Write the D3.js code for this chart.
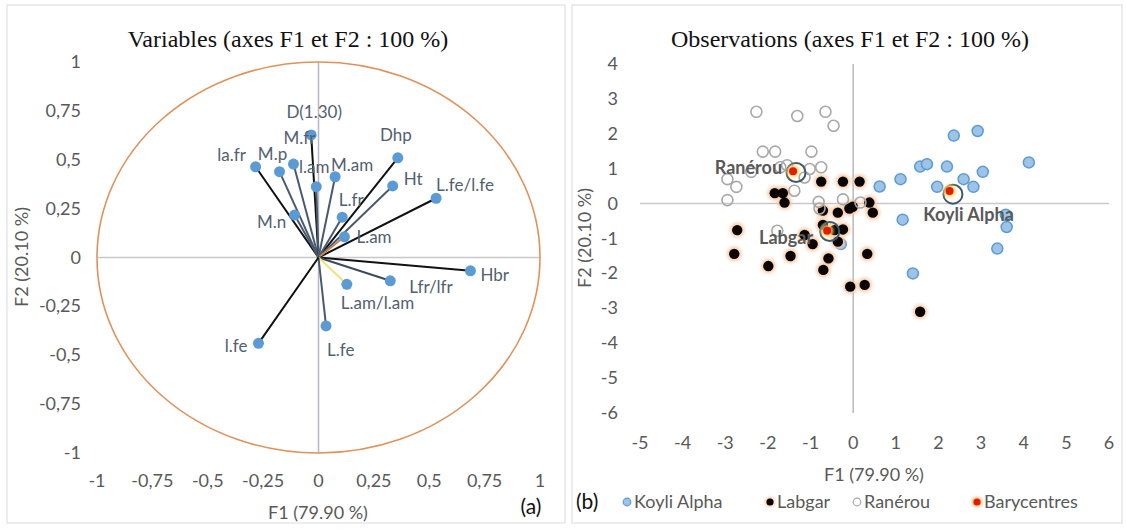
<!DOCTYPE html>
<html><head><meta charset="utf-8">
<script src="https://cdn.jsdelivr.net/npm/d3@7"></script>
<style>body{margin:0;background:#fff}svg{display:block}text{font-family:Lato,"Noto Sans",sans-serif}</style>
</head><body><svg id="c" width="1126" height="530"></svg>
<script>
// ---------- DATA ----------
const varNames = ["la.fr","M.p","M.fr","D(1.30)","l.am","M.am","Dhp","Ht","L.fe/l.fe","L.fr","L.am","M.n","Hbr","Lfr/lfr","L.am/l.am","L.fe","l.fe"];
const varF1 = [-0.284,-0.176,-0.113,-0.033,-0.010,0.075,0.358,0.335,0.531,0.107,0.117,-0.108,0.686,0.324,0.128,0.034,-0.271];
const varF2 = [0.464,0.439,0.478,0.627,0.362,0.413,0.510,0.366,0.303,0.206,0.106,0.217,-0.068,-0.119,-0.137,-0.350,-0.439];

const koyliF1 = [0.62,1.11,1.57,1.73,2.20,2.36,2.92,4.12,3.04,2.59,1.97,2.82,1.16,3.58,3.60,3.38,1.40,-0.29];
const koyliF2 = [0.49,0.70,1.06,1.13,1.06,1.95,2.08,1.18,0.91,0.70,0.48,0.48,-0.46,-0.32,-0.67,-1.29,-2.00,-1.16];

const labgarF1 = [-0.75,-0.24,0.15,-1.84,-1.65,-1.61,0.38,0.46,-0.36,-0.09,-0.01,-0.71,-0.71,-0.24,-0.44,-1.14,-0.95,-0.36,-1.47,-0.58,0.33,-1.99,-0.70,-0.07,0.27,1.57,-2.72,-2.79];
const labgarF2 = [0.63,0.63,0.63,0.30,0.30,0.03,0.03,-0.26,-0.26,-0.14,-0.09,-0.20,-0.61,-0.74,-0.76,-0.90,-1.16,-1.09,-1.50,-1.57,-1.44,-1.79,-1.90,-2.38,-2.33,-3.10,-0.76,-1.44];

const raneF1 = [-2.27,-1.31,-0.65,-0.46,-2.12,-1.83,-0.98,-1.71,-1.55,-2.39,-1.02,-0.75,-1.14,-2.95,-2.74,-1.38,-2.95,-0.81,-0.24,-0.79,0.17,-1.78];
const raneF2 = [2.63,2.51,2.63,2.23,1.49,1.49,1.49,1.04,1.10,0.91,0.99,1.04,0.75,0.70,0.48,0.37,0.10,0.05,0.12,-0.14,0.03,-0.78];

const baryNames = ["Ranérou","Labgar","Koyli Alpha"];
const baryF1 = [-1.41,-0.61,2.26];
const baryF2 = [0.93,-0.78,0.36];
const ringF1 = [-1.34,-0.55,2.34];
const ringF2 = [0.89,-0.80,0.27];

const leftTicks = [-1,-0.75,-0.5,-0.25,0,0.25,0.5,0.75,1];
const rightXTicks = [-5,-4,-3,-2,-1,0,1,2,3,4,5,6];
const rightYTicks = [-6,-5,-4,-3,-2,-1,0,1,2,3,4];
const legendItems = ["Koyli Alpha","Labgar","Ranérou","Barycentres"];

// ---------- STYLE / LAYOUT ----------
const BLACK="#111111", SLATE="#4A5A6E";
const lineColor = {"la.fr":BLACK,"M.p":SLATE,"M.fr":SLATE,"D(1.30)":BLACK,"l.am":SLATE,"M.am":SLATE,"Dhp":BLACK,"Ht":SLATE,
  "L.fe/l.fe":BLACK,"L.fr":SLATE,"L.am":"#C9844F","M.n":SLATE,"Hbr":BLACK,"Lfr/lfr":"#3E4A5A","L.am/l.am":"#F3E27A","L.fe":SLATE,"l.fe":BLACK};
const labelPos = {"la.fr":[-24,-12,"middle"],"M.p":[-7,-18,"middle"],"M.fr":[6,-26,"middle"],"D(1.30)":[3,-23,"middle"],
  "l.am":[-2,-20,"middle"],"M.am":[17,-12,"middle"],"Dhp":[-2,-23,"middle"],"Ht":[11,-7,"start"],"L.fe/l.fe":[0,-13,"start"],
  "L.fr":[9,-17,"middle"],"L.am":[12,0,"start"],"M.n":[-23,7,"middle"],"Hbr":[10,4,"start"],"Lfr/lfr":[19,6,"start"],
  "L.am/l.am":[-6,19,"start"],"L.fe":[1,24,"start"],"l.fe":[-11,3,"end"]};
const baryLabelPos = {"Ranérou":[-11,-3,"end"],"Labgar":[-14,7,"end"],"Koyli Alpha":[19,24,"middle"]};
const TICK="#595959";

const svg = d3.select("#c");
svg.append("rect").attr("width",1126).attr("height",530).attr("fill","#fff");
svg.append("rect").attr("x",7).attr("y",5).attr("width",558).attr("height",518).attr("fill","none").attr("stroke","#DADADA");
svg.append("rect").attr("x",572).attr("y",5).attr("width",550).attr("height",518).attr("fill","none").attr("stroke","#DADADA");

const fmt = v => (v===0?"0":String(v).replace(".",","));
const SERIF = "'Liberation Serif','Times New Roman',serif";

// ---------- LEFT PANEL ----------
const xL = d3.scaleLinear().domain([-1,1]).range([97,540]);
const yL = d3.scaleLinear().domain([-1,1]).range([453,62]);
const L = svg.append("g");
L.append("text").attr("x",288).attr("y",47).attr("text-anchor","middle")
  .style("font-family",SERIF).style("font-size","24px").attr("fill","#111")
  .text("Variables (axes F1 et F2 : 100 %)");
L.append("line").attr("x1",xL(-1)).attr("x2",xL(1)).attr("y1",yL(0)).attr("y2",yL(0)).attr("stroke","#C8C8C8").attr("stroke-width",1.5);
L.append("line").attr("x1",xL(0)).attr("x2",xL(0)).attr("y1",yL(1)).attr("y2",yL(-1)).attr("stroke","#B8B8C0").attr("stroke-width",1.5);
L.append("ellipse").attr("cx",xL(0)).attr("cy",yL(0)).attr("rx",xL(1)-xL(0)).attr("ry",yL(-1)-yL(0))
  .attr("fill","none").attr("stroke","#E0915A").attr("stroke-width",1.6);
L.selectAll(".xt").data(leftTicks).join("text").attr("x",d=>xL(d)).attr("y",487).attr("text-anchor","middle")
  .attr("fill",TICK).style("font-size","18px").text(fmt);
L.selectAll(".yt").data(leftTicks).join("text").attr("x",81).attr("y",d=>yL(d)+6).attr("text-anchor","end")
  .attr("fill",TICK).style("font-size","18px").text(fmt);
L.append("text").attr("x",318).attr("y",519).attr("text-anchor","middle").attr("fill",TICK).style("font-size","18px").text("F1 (79.90 %)");
L.append("text").attr("transform","translate(28,257) rotate(-90)").attr("text-anchor","middle").attr("fill",TICK).style("font-size","18px").text("F2 (20.10 %)");
L.append("text").attr("x",531).attr("y",514).attr("text-anchor","middle").attr("fill","#111").style("font-size","21px").text("(a)");
const vars = varNames.map((n,i)=>({n,x:varF1[i],y:varF2[i]}));
L.selectAll(".vl").data(vars).join("line").attr("x1",xL(0)).attr("y1",yL(0)).attr("x2",d=>xL(d.x)).attr("y2",d=>yL(d.y))
  .attr("stroke",d=>lineColor[d.n]).attr("stroke-width",2);
L.selectAll(".vp").data(vars).join("circle").attr("cx",d=>xL(d.x)).attr("cy",d=>yL(d.y)).attr("r",5.5).attr("fill","#5B9BD5");
L.selectAll(".vt").data(vars).join("text").attr("x",d=>xL(d.x)+labelPos[d.n][0]).attr("y",d=>yL(d.y)+labelPos[d.n][1])
  .attr("dy","0.35em").attr("text-anchor",d=>labelPos[d.n][2]).attr("fill","#52606F").style("font-size","17px").text(d=>d.n);

// ---------- RIGHT PANEL ----------
const xR = d3.scaleLinear().domain([-5,6]).range([640,1109]);
const yR = d3.scaleLinear().domain([-6,4]).range([413,64]);
const R = svg.append("g");
R.append("text").attr("x",850).attr("y",47).attr("text-anchor","middle")
  .style("font-family",SERIF).style("font-size","24px").attr("fill","#111")
  .text("Observations (axes F1 et F2 : 100 %)");
R.append("line").attr("x1",xR(-5)).attr("x2",xR(6)).attr("y1",yR(0)).attr("y2",yR(0)).attr("stroke","#C8C8C8").attr("stroke-width",1.5);
R.append("line").attr("x1",xR(0)).attr("x2",xR(0)).attr("y1",yR(4)).attr("y2",yR(-6)).attr("stroke","#B8B8C0").attr("stroke-width",1.5);
R.selectAll(".xt").data(rightXTicks).join("text").attr("x",d=>xR(d)).attr("y",449).attr("text-anchor","middle")
  .attr("fill",TICK).style("font-size","18px").text(d=>String(d));
R.selectAll(".yt").data(rightYTicks).join("text").attr("x",618).attr("y",d=>yR(d)+6).attr("text-anchor","end")
  .attr("fill",TICK).style("font-size","18px").text(d=>String(d));
R.append("text").attr("x",874).attr("y",481).attr("text-anchor","middle").attr("fill",TICK).style("font-size","18px").text("F1 (79.90 %)");
R.append("text").attr("transform","translate(591,238) rotate(-90)").attr("text-anchor","middle").attr("fill",TICK).style("font-size","18px").text("F2 (20.10 %)");

const defs = svg.append("defs");
const f = defs.append("filter").attr("id","glow").attr("x","-100%").attr("y","-100%").attr("width","300%").attr("height","300%");
f.append("feGaussianBlur").attr("stdDeviation",1.6);

const pts = (a,b)=>a.map((v,i)=>({x:v,y:b[i]}));
R.selectAll(".ko").data(pts(koyliF1,koyliF2)).join("circle").attr("cx",d=>xR(d.x)).attr("cy",d=>yR(d.y)).attr("r",5.5)
  .attr("fill","#9DC3E6").attr("stroke","#5B9BD5").attr("stroke-width",1.5);
const lab = pts(labgarF1,labgarF2);
R.selectAll(".lgg").data(lab).join("circle").attr("cx",d=>xR(d.x)).attr("cy",d=>yR(d.y)).attr("r",7.5)
  .attr("fill","#F6C7A0").attr("opacity",0.8).attr("filter","url(#glow)");
R.selectAll(".lg").data(lab).join("circle").attr("cx",d=>xR(d.x)).attr("cy",d=>yR(d.y)).attr("r",5.2).attr("fill","#0A0503");
R.selectAll(".ra").data(pts(raneF1,raneF2)).join("circle").attr("cx",d=>xR(d.x)).attr("cy",d=>yR(d.y)).attr("r",5.5)
  .attr("fill","none").attr("stroke","#A8A8A8").attr("stroke-width",1.6);
const bary = baryNames.map((n,i)=>({n,x:baryF1[i],y:baryF2[i]}));
R.selectAll(".rg").data(pts(ringF1,ringF2)).join("circle").attr("cx",d=>xR(d.x)).attr("cy",d=>yR(d.y)).attr("r",9.5)
  .attr("fill","none").attr("stroke","#3F5770").attr("stroke-width",2);
R.selectAll(".bg").data(bary).join("circle").attr("cx",d=>xR(d.x)).attr("cy",d=>yR(d.y)).attr("r",6.5)
  .attr("fill","#FFD966").attr("opacity",0.85).attr("filter","url(#glow)");
R.selectAll(".bd").data(bary).join("circle").attr("cx",d=>xR(d.x)).attr("cy",d=>yR(d.y)).attr("r",4).attr("fill","#E41A0A");
R.selectAll(".bt").data(bary).join("text").attr("x",d=>xR(d.x)+baryLabelPos[d.n][0]).attr("y",d=>yR(d.y)+baryLabelPos[d.n][1])
  .attr("dy","0.35em").attr("text-anchor",d=>baryLabelPos[d.n][2]).attr("fill","#595959").style("font-size","18px").style("font-weight","bold").text(d=>d.n);

const lg = R.append("g");
lg.append("text").attr("x",576).attr("y",509).attr("fill","#111").style("font-size","21px").text("(b)");
const legX = [627,770,857,977];
legendItems.forEach((name,i)=>{
  const cx = legX[i], cy = 502;
  if(i===0) lg.append("circle").attr("cx",cx).attr("cy",cy).attr("r",3.8).attr("fill","#9DC3E6").attr("stroke","#5B9BD5").attr("stroke-width",1.2);
  if(i===1){ lg.append("circle").attr("cx",cx).attr("cy",cy).attr("r",5).attr("fill","#F6C7A0").attr("filter","url(#glow)");
             lg.append("circle").attr("cx",cx).attr("cy",cy).attr("r",3.6).attr("fill","#0A0503"); }
  if(i===2) lg.append("circle").attr("cx",cx).attr("cy",cy).attr("r",3.8).attr("fill","none").attr("stroke","#A8A8A8").attr("stroke-width",1.2);
  if(i===3){ lg.append("circle").attr("cx",cx).attr("cy",cy).attr("r",5).attr("fill","#FFB866").attr("filter","url(#glow)");
             lg.append("circle").attr("cx",cx).attr("cy",cy).attr("r",3.6).attr("fill","#E41A0A"); }
  lg.append("text").attr("x",cx+7).attr("y",cy+6).attr("fill",TICK).style("font-size","18px").text(name);
});
</script></body></html>
